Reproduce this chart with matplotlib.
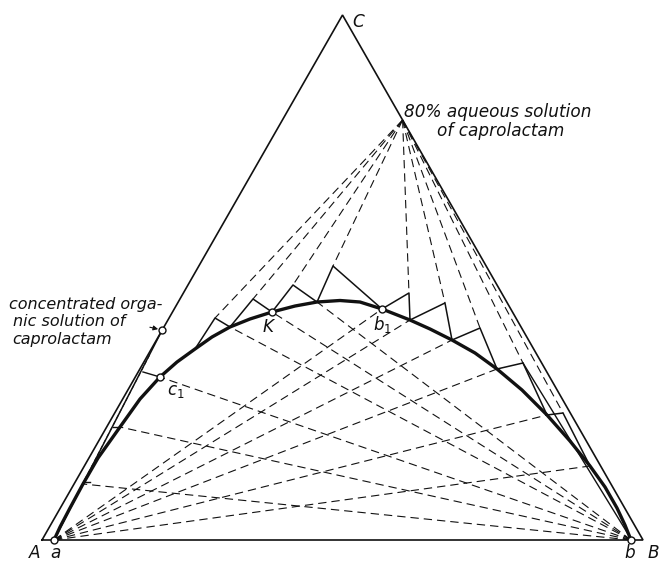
import matplotlib
matplotlib.use("Agg")
import matplotlib.pyplot as plt
import numpy as np

# diagram coordinates: A=(0,0), B=(1,0), C=(0.5, h)
h = np.sqrt(3) / 2
A = (0.0, 0.0)
B = (1.0, 0.0)
C = (0.5, h)

# feed (80 % aqueous caprolactam) on BC, organic solution (40 % C) on AC
feed = (0.6, 0.8 * h)
organic = (0.2, 0.4 * h)
pt_a = (0.02, 0.0)
pt_b = (0.98, 0.0)
pt_c1 = (0.1963, 0.2689)
pt_K = (0.3827, 0.3761)
pt_b1 = (0.5657, 0.3811)

# binodal curve
binodal_x = [0.0200, 0.0300, 0.0466, 0.0682, 0.0932, 0.1298, 0.1631, 0.1963,
             0.2246, 0.2546, 0.2829, 0.3128, 0.3461, 0.3827, 0.4210, 0.4576,
             0.4958, 0.5291, 0.5657, 0.6123, 0.6456, 0.6822, 0.7205, 0.7571,
             0.7987, 0.8403, 0.8785, 0.9118, 0.9368, 0.9567, 0.9700, 0.9800]
binodal_y = [0.0000, 0.0214, 0.0528, 0.0924, 0.1353, 0.1864, 0.2326, 0.2689,
             0.2936, 0.3151, 0.3349, 0.3514, 0.3646, 0.3761, 0.3860, 0.3926,
             0.3951, 0.3926, 0.3811, 0.3629, 0.3481, 0.3299, 0.3085, 0.2821,
             0.2474, 0.2062, 0.1633, 0.1221, 0.0874, 0.0528, 0.0247, 0.0000]

# stage construction: curve point / apex alternating
stage_x = [0.2546, 0.2879, 0.3128, 0.3511, 0.3827, 0.4176, 0.4576, 0.4842,
           0.5657, 0.6106, 0.6123, 0.6705, 0.6822, 0.7288, 0.7571, 0.8003,
           0.8403, 0.8669, 0.9118]
stage_y = [0.3151, 0.3662, 0.3514, 0.3976, 0.3761, 0.4207, 0.3926, 0.4520,
           0.3811, 0.4075, 0.3629, 0.3910, 0.3299, 0.3497, 0.2821, 0.2920,
           0.2062, 0.2095, 0.1221]

# rays from the feed point to the apexes
feed_ray_idx = [1, 3, 5, 7, 9, 11, 13, 15, 17]
# right-branch points joined to a, left-branch points joined to b
ray_a_x = [0.5657, 0.6123, 0.6822, 0.7571, 0.8403, 0.9118]
ray_a_y = [0.3811, 0.3629, 0.3299, 0.2821, 0.2062, 0.1221]
ray_b_x = [0.0682, 0.1298, 0.1963, 0.3128, 0.3827, 0.4576]
ray_b_y = [0.0924, 0.1864, 0.2689, 0.3514, 0.3761, 0.3926]

# short tie stubs between the organic line and the curve
tie_x0 = [0.1680, 0.1181, 0.0699]
tie_y0 = [0.2772, 0.1864, 0.0957]
tie_x1 = [0.1963, 0.1298, 0.0799]
tie_y1 = [0.2689, 0.1864, 0.0957]

# raffinate line running down beside BC
raff_x = [0.8003, 0.9750]
raff_y = [0.2920, 0.0100]

fig = plt.figure(figsize=(6.62, 5.62), dpi=100)
ax = fig.add_axes([0, 0, 1, 1])
ax.set_xlim(-42 / 601, 620 / 601)
ax.set_ylim(-22 / 606.2 * (h / 0.866), 540 / 606.2 * (h / 0.866))
ax.axis("off")

ink = "#111111"
dash = (0, (7.5, 4.5))

# triangle
ax.plot([A[0], B[0], C[0], A[0]], [A[1], B[1], C[1], A[1]], color=ink, lw=1.2,
        solid_joinstyle="miter")

# dashed rays
for i in feed_ray_idx:
    ax.plot([feed[0], stage_x[i]], [feed[1], stage_y[i]], color=ink, lw=0.8, ls=dash)
for x, y in zip(ray_a_x, ray_a_y):
    ax.plot([pt_a[0], x], [pt_a[1], y], color=ink, lw=0.8, ls=dash)
for x, y in zip(ray_b_x, ray_b_y):
    ax.plot([pt_b[0], x], [pt_b[1], y], color=ink, lw=0.8, ls=dash)
# dashed guide inside the narrow strip near AC
ax.plot([0.1790, 0.0300], [0.3050, 0.0214], color=ink, lw=0.7, ls=(0, (4, 3)))

# binodal curve
ax.plot(binodal_x, binodal_y, color=ink, lw=2.4, solid_capstyle="round",
        solid_joinstyle="round")

# steps
ax.plot(stage_x, stage_y, color=ink, lw=1.1)
ax.plot(raff_x, raff_y, color=ink, lw=1.0)
ax.plot([organic[0], pt_a[0]], [organic[1], pt_a[1]], color=ink, lw=1.1)
for x0, y0, x1, y1 in zip(tie_x0, tie_y0, tie_x1, tie_y1):
    ax.plot([x0, x1], [y0, y1], color=ink, lw=1.0)

# marked points
for p in [pt_a, pt_b, pt_c1, pt_K, pt_b1, organic]:
    ax.plot(p[0], p[1], marker="o", ms=5, mfc="white", mec=ink, mew=1.0, zorder=5)

# labels
tk = dict(color=ink, style="italic", fontsize=12.2)
tl = dict(color=ink, style="italic", fontsize=11.5)
ax.text(0.516, 0.854, "C", ha="left", va="center", **tk)
ax.text(0.602, 0.706, "80% aqueous solution", ha="left", va="center", **tk)
ax.text(0.657, 0.674, "of caprolactam", ha="left", va="center", **tk)
ax.text(-0.055, 0.389, "concentrated orga-", ha="left", va="center", **tl)
ax.text(-0.048, 0.360, "nic solution of", ha="left", va="center", **tl)
ax.text(-0.050, 0.330, "caprolactam", ha="left", va="center", **tl)
ax.annotate("", xy=organic, xytext=(0.175, 0.352),
            arrowprops=dict(arrowstyle="-|>", color=ink, lw=0.8,
                            mutation_scale=7, shrinkB=3))
ax.text(0.208, 0.245, "$c_1$", ha="left", va="center", color=ink, fontsize=12)
ax.text(0.376, 0.352, "K", ha="center", va="center", **tk)
ax.text(0.567, 0.356, "$b_1$", ha="center", va="center", color=ink, fontsize=12)
ax.text(-0.012, -0.022, "A", ha="center", va="center", **tk)
ax.text(0.022, -0.022, "a", ha="center", va="center", **tk)
ax.text(0.978, -0.022, "b", ha="center", va="center", **tk)
ax.text(1.018, -0.022, "B", ha="center", va="center", **tk)

fig.savefig("out.png", dpi=100)
